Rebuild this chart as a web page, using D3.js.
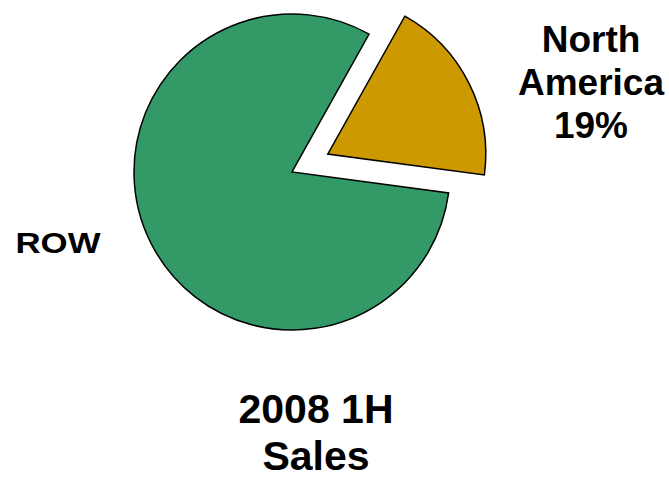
<!DOCTYPE html>
<html>
<head>
<meta charset="utf-8">
<script src="https://cdn.jsdelivr.net/npm/d3@7"></script>
<style>
  html, body { margin: 0; padding: 0; background: #fff; }
  svg { display: block; }
  text { font-family: Arial, "Liberation Sans", Helvetica, sans-serif; font-weight: 700; fill: #000; }
</style>
</head>
<body>
<svg id="chart" width="669" height="479"></svg>
<script>
const categories = ["North America", "ROW"];
const values = [19, 81];
const colors = ["#CC9900", "#339966"];
const labelLines = [["North", "America", "19%"], ["ROW"]];
const titleLines = ["2008 1H", "Sales"];

const svg = d3.select("#chart");
const cx = 292, cy = 172, r = 158;
const startDeg = 29.2;
const explode = 40;

const pie = d3.pie().sort(null)
  .startAngle(startDeg * Math.PI / 180)
  .endAngle(startDeg * Math.PI / 180 + 2 * Math.PI);
const arcs = pie(values);
const arc = d3.arc().innerRadius(0).outerRadius(r);

const g = svg.append("g").attr("transform", `translate(${cx},${cy})`);
g.selectAll("path").data(arcs).enter().append("path")
  .attr("d", arc)
  .attr("fill", (d, i) => colors[i])
  .attr("stroke", "#000")
  .attr("stroke-width", 1.5)
  .attr("stroke-linejoin", "miter")
  .attr("transform", (d, i) => {
    if (i !== 0) return null;
    const m = (d.startAngle + d.endAngle) / 2;
    return `translate(${explode * Math.sin(m)},${-explode * Math.cos(m)})`;
  });

// labels
const naLabel = svg.append("text").attr("text-anchor", "middle").style("font-size", "37px");
labelLines[0].forEach((t, i) => {
  naLabel.append("tspan").attr("x", 591).attr("y", 52 + i * 43).text(t);
});
svg.append("text").attr("text-anchor", "middle").attr("x", 58).attr("y", 253)
  .style("font-size", "29px")
  .attr("textLength", 85).attr("lengthAdjust", "spacingAndGlyphs")
  .text(labelLines[1][0]);

const title = svg.append("text").attr("text-anchor", "middle").style("font-size", "41px");
titleLines.forEach((t, i) => {
  title.append("tspan").attr("x", 316).attr("y", 423 + i * 47).text(t);
});
</script>
</body>
</html>
